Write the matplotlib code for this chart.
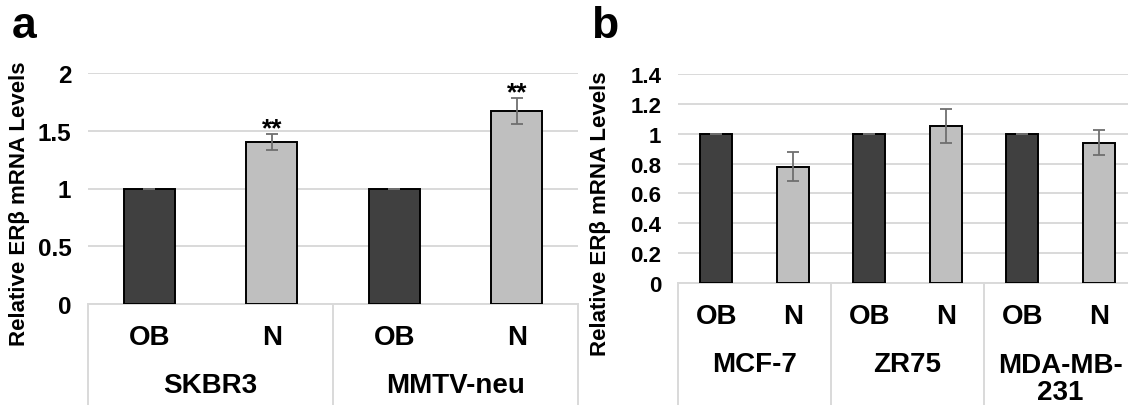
import matplotlib
matplotlib.use("Agg")
import matplotlib.pyplot as plt
import numpy as np

plt.rcParams['font.family'] = ['Liberation Sans', 'DejaVu Sans']
plt.rcParams['font.weight'] = 'bold'

# ---- data ----
conditions = ['OB', 'N']
sig_marks = '**'

cells_a = ['SKBR3', 'MMTV-neu']
ob_a = [1.0, 1.0]
ob_err_a = [0.0, 0.0]
n_a = [1.40, 1.67]
n_err_a = [0.07, 0.115]
sig_a = [True, True]

cells_b = ['MCF-7', 'ZR75', 'MDA-MB-\n231']
ob_b = [1.0, 1.0, 1.0]
ob_err_b = [0.0, 0.0, 0.0]
n_b = [0.78, 1.05, 0.94]
n_err_b = [0.095, 0.115, 0.085]
sig_b = [False, False, False]

yticks_a = [0, 0.5, 1, 1.5, 2]
yticks_b = [0, 0.2, 0.4, 0.6, 0.8, 1, 1.2, 1.4]

DARK = '#404040'
LIGHT = '#bfbfbf'
GRID = '#d9d9d9'
ERR = '#6f6f6f'

W, H = 1128, 406
fig = plt.figure(figsize=(W / 100, H / 100), dpi=100)


def px_rect(left, right, top, bottom):
    return [left / W, (H - bottom) / H, (right - left) / W, (bottom - top) / H]


def draw_panel(ax, cells, ob, ob_err, n, n_err, sig, yticks, tick_fs,
               label_xy, ylabel_pos):
    ngrp = len(cells)
    x_ob = np.arange(ngrp) * 2
    x_n = x_ob + 1
    bw = 0.42
    ax.bar(x_ob, ob, bw, color=DARK, edgecolor='black', linewidth=1.4, zorder=3)
    ax.bar(x_n, n, bw, color=LIGHT, edgecolor='black', linewidth=1.4, zorder=3)
    ax.errorbar(x_ob, ob, yerr=ob_err, fmt='none', ecolor=ERR, elinewidth=1.3,
                capsize=4.5, capthick=1.3, zorder=4)
    ax.errorbar(x_n, n, yerr=n_err, fmt='none', ecolor=ERR, elinewidth=1.3,
                capsize=4.5, capthick=1.3, zorder=4)
    for xi, v, e, s in zip(x_n, n, n_err, sig):
        if s:
            ax.annotate(sig_marks, (xi, v + e), xytext=(0, -1),
                        textcoords='offset points', ha='center', va='baseline',
                        fontsize=19, fontweight='bold')

    ax.set_xlim(-0.5, 2 * ngrp - 0.5)
    ax.set_ylim(yticks[0], yticks[-1])
    ax.set_yticks(yticks)
    ax.set_yticklabels(['%g' % t for t in yticks])
    ax.tick_params(axis='y', length=0, pad=12, labelsize=tick_fs)
    ax.yaxis.grid(True, color=GRID, linewidth=1.4, zorder=0)
    ax.set_axisbelow(True)
    for sp in ['top', 'right', 'left']:
        ax.spines[sp].set_visible(False)
    ax.spines['bottom'].set_color(GRID)
    ax.spines['bottom'].set_linewidth(1.4)

    # multi-level category axis
    ax.set_xticks(np.concatenate([x_ob, x_n]))
    ax.set_xticklabels([])
    ax.tick_params(axis='x', length=0)
    trans = ax.get_xaxis_transform()
    for xi in x_ob:
        for k, lab in enumerate(conditions):
            ax.annotate(lab, (xi + k, 0), xycoords=trans, xytext=(0, -24),
                        textcoords='offset points', ha='center', va='center',
                        fontsize=20, fontweight='bold')
    for g, name in enumerate(cells):
        dy = -58 if '\n' not in name else -69
        ax.annotate(name, (2 * g + 0.5, 0), xycoords=trans, xytext=(0, dy),
                    textcoords='offset points', ha='center', va='center',
                    fontsize=20, fontweight='bold', linespacing=1.05)
    for b in np.arange(ngrp + 1) * 2 - 0.5:
        ax.plot([b, b], [0, -1], transform=trans, color=GRID, linewidth=1.4,
                clip_on=False, zorder=1)

    ax.set_ylabel('Relative ERβ mRNA Levels', fontsize=16, fontweight='bold')
    ax.yaxis.set_label_coords(*ylabel_pos)
    fig.text(label_xy[0] / W, 1 - label_xy[1] / H, label_xy[2], fontsize=32,
             fontweight='bold', ha='left', va='baseline')


ax_a = fig.add_axes(px_rect(88, 578, 74, 305))
draw_panel(ax_a, cells_a, ob_a, ob_err_a, n_a, n_err_a, sig_a, yticks_a, 17.5,
           (12, 38, 'a'), (-0.118, 0.437))

ax_b = fig.add_axes(px_rect(678, 1137, 75, 284))
draw_panel(ax_b, cells_b, ob_b, ob_err_b, n_b, n_err_b, sig_b, yticks_b, 16,
           (591, 38, 'b'), (-0.146, 0.335))

fig.savefig('out.png', dpi=100)
